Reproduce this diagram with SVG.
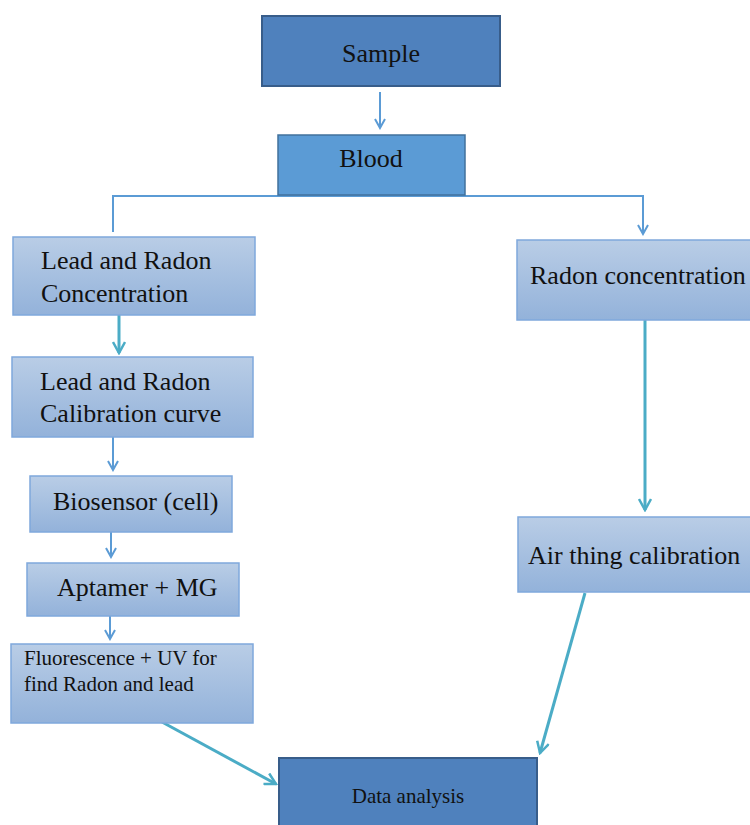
<svg xmlns="http://www.w3.org/2000/svg" width="750" height="825" viewBox="0 0 750 825">
<defs>
<linearGradient id="lg" x1="0" y1="0" x2="0" y2="1">
<stop offset="0" stop-color="#B9CDE6"/>
<stop offset="1" stop-color="#93B2DA"/>
</linearGradient>
<marker id="ab" viewBox="0 0 12 12" refX="10" refY="6" markerWidth="12" markerHeight="12" markerUnits="userSpaceOnUse" orient="auto">
<path d="M1,1 L10,6 L1,11" fill="none" stroke="#5B9BD5" stroke-width="2"/>
</marker>
<marker id="at" viewBox="0 0 14 14" refX="12" refY="7" markerWidth="14" markerHeight="14" markerUnits="userSpaceOnUse" orient="auto">
<path d="M1,1 L12,7 L1,13" fill="none" stroke="#4BACC6" stroke-width="2.5"/>
</marker>
</defs>
<style>
text{font-family:"Liberation Serif","Times New Roman",serif;fill:#111;}
.dark{fill:#4F81BD;stroke:#385D8A;stroke-width:2;}
.mid{fill:#5B9BD5;stroke:#41719C;stroke-width:1.5;}
.light{fill:url(#lg);stroke:#7FA8DC;stroke-width:1.5;}
.cb{fill:none;stroke:#5B9BD5;stroke-width:2;}
.ct{fill:none;stroke:#4BACC6;stroke-width:3;}
.t{font-size:26px;}
</style>
<rect width="750" height="825" fill="#fff"/>
<g id="connectors">
<path class="cb" d="M380,92 L380,128" marker-end="url(#ab)"/>
<path class="cb" d="M113,232 L113,196 L643,196 L643,234" marker-end="url(#ab)"/>
<path class="ct" d="M119,315 L119,353" marker-end="url(#at)"/>
<path class="cb" d="M113,437 L113,470" marker-end="url(#ab)"/>
<path class="cb" d="M111,532 L111,557" marker-end="url(#ab)"/>
<path class="cb" d="M110,616 L110,639" marker-end="url(#ab)"/>
<path class="ct" d="M645,320 L645,510" marker-end="url(#at)"/>
<path class="ct" d="M585,593 L540,753" marker-end="url(#at)"/>
<path class="ct" d="M162,722 L276,784" marker-end="url(#at)"/>
</g>
<g id="sample">
<rect class="dark" x="262" y="16" width="238" height="70"/>
<text class="t" x="381" y="62" text-anchor="middle">Sample</text>
</g>
<g id="blood">
<rect class="mid" x="278" y="135" width="187" height="60"/>
<text class="t" x="371" y="167" text-anchor="middle">Blood</text>
</g>
<g id="lead-radon-concentration">
<rect class="light" x="13" y="237" width="242" height="78"/>
<text class="t" x="41" y="269">Lead and Radon</text>
<text class="t" x="41" y="302">Concentration</text>
</g>
<g id="lead-radon-calibration">
<rect class="light" x="12" y="357" width="241" height="80"/>
<text class="t" x="40" y="390">Lead and Radon</text>
<text class="t" x="40" y="422">Calibration curve</text>
</g>
<g id="biosensor">
<rect class="light" x="30" y="476" width="202" height="56"/>
<text class="t" x="53" y="510">Biosensor (cell)</text>
</g>
<g id="aptamer">
<rect class="light" x="27" y="563" width="212" height="53"/>
<text class="t" x="57" y="596">Aptamer + MG</text>
</g>
<g id="fluorescence">
<rect class="light" x="11" y="644" width="242" height="79"/>
<text x="24" y="665" font-size="21">Fluorescence + UV  for</text>
<text x="24" y="691" font-size="21">find Radon and lead</text>
</g>
<g id="radon-concentration">
<rect class="light" x="517" y="240" width="245" height="80"/>
<text class="t" x="530" y="284">Radon concentration</text>
</g>
<g id="air-thing-calibration">
<rect class="light" x="518" y="517" width="244" height="75"/>
<text class="t" x="528" y="564">Air thing calibration</text>
</g>
<g id="data-analysis">
<rect class="dark" x="279" y="758" width="258" height="80" stroke="#2E4F7C"/>
<text x="408" y="803" font-size="21" text-anchor="middle">Data analysis</text>
</g>
</svg>
